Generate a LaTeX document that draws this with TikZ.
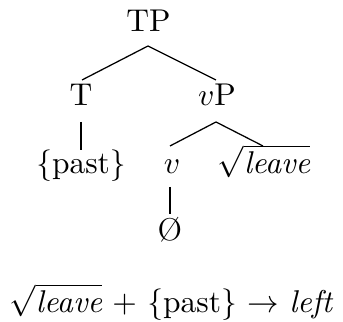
\documentclass[tikz,border=0pt]{standalone}
\begin{document}
\begin{tikzpicture}[x=0.3175pt,y=-0.3175pt,
  lab/.style={anchor=base,inner sep=0pt},
  branch/.style={line width=0.4pt},
  unary/.style={line width=0.6pt}]
\useasboundingbox (0,0) rectangle (343,322);
\node[lab] (TP) at (148.5,32) {TP};
\node[lab] (T) at (81,106) {T};
\node[lab] (vP) at (217,106) {$v$P};
\node[lab] (past) at (81,174) {\{past\}};
\node[lab] (v) at (172,174) {$v$};
\node[lab] (leave) at (264,174) {$\sqrt{\textit{leave}}$};
\node[lab] (O) at (170,241) {\O};
\node[lab] (f) at (171.5,313) {$\sqrt{\textit{leave}}$ + \{past\} $\rightarrow$ \textit{left}};
\draw[branch] ([shift={(-0.5,14)}]TP.base) -- ([shift={(1,-26)}]T.base);
\draw[branch] ([shift={(-0.5,14)}]TP.base) -- ([shift={(-1,-26)}]vP.base);
\draw[unary] ([shift={(0,16)}]T.base) -- ([shift={(0,-24)}]past.base);
\draw[branch] ([shift={(-1,16)}]vP.base) -- ([shift={(-2,-28)}]v.base);
\draw[branch] ([shift={(-1,16)}]vP.base) -- ([shift={(-1,-28)}]leave.base);
\draw[unary] ([shift={(-2,13)}]v.base) -- ([shift={(0,-27)}]O.base);
\end{tikzpicture}
\end{document}
